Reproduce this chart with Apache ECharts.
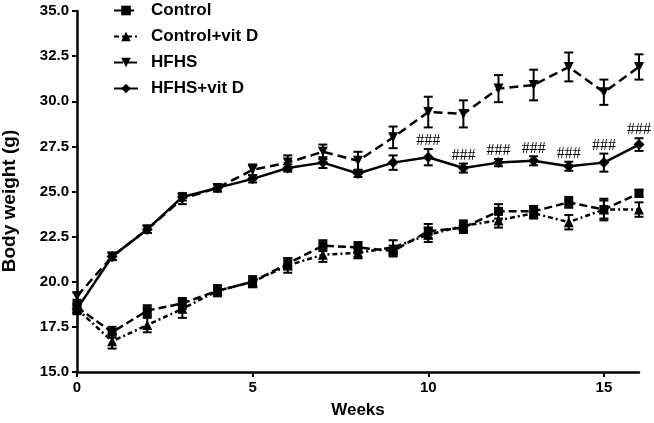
<!DOCTYPE html>
<html>
<head>
<meta charset="utf-8">
<script src="https://cdn.jsdelivr.net/npm/echarts@6/dist/echarts.min.js"></script>
<style>html,body{margin:0;padding:0;background:#fff}#c{width:654px;height:423px}</style>
</head>
<body>
<div id="c"></div>
<script>
const weeks = [0,1,2,3,4,5,6,7,8,9,10,11,12,13,14,15,16];
const yTicks = [15.0,17.5,20.0,22.5,25.0,27.5,30.0,32.5,35.0];
const xTickLabels = [0,5,10,15];
const seriesNames = ['Control','Control+vit D','HFHS','HFHS+vit D'];
const xTitle = 'Weeks';
const yTitle = 'Body weight (g)';

const control      = [18.6,17.2,18.4,18.8,19.5,20.0,21.0,22.0,21.9,21.7,22.8,23.0,23.9,23.9,24.4,24.0,24.9];
const controlErr   = [0.3,0.3,0.3,0.3,0.3,0.3,0.3,0.3,0.3,0.3,0.4,0.3,0.4,0.3,0.3,0.6,0.2];
const controlVitD  = [18.5,16.7,17.6,18.5,19.5,20.0,20.9,21.5,21.6,21.9,22.6,23.1,23.4,23.8,23.3,24.0,24.0];
const controlVitDErr=[0.3,0.4,0.4,0.5,0.3,0.3,0.4,0.4,0.3,0.4,0.4,0.3,0.4,0.3,0.4,0.5,0.4];
const hfhs         = [19.2,21.4,22.9,24.6,25.2,26.2,26.6,27.2,26.7,28.0,29.4,29.3,30.7,30.9,31.9,30.5,31.9];
const hfhsErr      = [0.2,0.2,0.2,0.3,0.2,0.3,0.4,0.4,0.5,0.6,0.85,0.75,0.75,0.85,0.8,0.7,0.7];
const hfhsVitD     = [18.5,21.4,22.9,24.7,25.2,25.7,26.3,26.6,26.0,26.6,26.9,26.3,26.6,26.7,26.4,26.6,27.6];
const hfhsVitDErr  = [0.2,0.2,0.2,0.2,0.2,0.2,0.2,0.3,0.2,0.4,0.45,0.25,0.2,0.25,0.25,0.5,0.35];
const sigLabel     = ['','','','','','','','','','','###','###','###','###','###','###','###'];

const chart = echarts.init(document.getElementById('c'));
const FONT = 'Liberation Sans, Arial, sans-serif';
const BOLD = {fontFamily:FONT, fontWeight:'bold', color:'#000'};

function pairs(vals){ return weeks.map((w,i)=>[w, vals[i]]); }
function errData(vals, errs){ return weeks.map((w,i)=>[w, vals[i]-errs[i], vals[i]+errs[i]]); }

function errSeries(vals, errs){
  return {
    type:'custom', silent:true, z:3,
    data: errData(vals, errs),
    encode:{x:0, y:[1,2]},
    renderItem:(params, api)=>{
      const x = api.value(0);
      const hi = api.coord([x, api.value(2)]);
      const lo = api.coord([x, api.value(1)]);
      const w = 4.5;
      const st = {stroke:'#000', lineWidth:2};
      return {type:'group', children:[
        {type:'line', shape:{x1:hi[0],y1:hi[1],x2:lo[0],y2:lo[1]}, style:st},
        {type:'line', shape:{x1:hi[0]-w,y1:hi[1],x2:hi[0]+w,y2:hi[1]}, style:st},
        {type:'line', shape:{x1:lo[0]-w,y1:lo[1],x2:lo[0]+w,y2:lo[1]}, style:st}
      ]};
    }
  };
}

function lineSeries(name, vals, symbol, size, dash, rotate){
  return {
    name, type:'line', data: pairs(vals), symbol, symbolSize:size, symbolRotate: rotate||0,
    z:4,
    lineStyle:{color:'#000', width:2.5, type:dash, cap:'butt'},
    itemStyle:{color:'#000', borderWidth:0},
    emphasis:{disabled:true}, animation:false
  };
}

const sigSeries = {
  type:'custom', silent:true, z:5,
  data: weeks.map((w,i)=>[w, hfhsVitD[i]+hfhsVitDErr[i], i]),
  renderItem:(params, api)=>{
    const idx = api.value(2);
    const txt = sigLabel[idx];
    if(!txt) return null;
    const p = api.coord([api.value(0), api.value(1)]);
    return {type:'text', x:p[0], y:p[1]-8, style:{text:txt, align:'center', verticalAlign:'middle',
      font:'16px "Liberation Serif", "Times New Roman", serif', fill:'#000'}};
  }
};

chart.setOption({
  animation:false,
  backgroundColor:'#fff',
  grid:{left:77, right:15, top:11, bottom:51, containLabel:false, outerBoundsMode:'none'},
  legend:{
    data: seriesNames,
    orient:'vertical', left:113, top:2, padding:0, itemWidth:24, itemHeight:12, itemGap:9,
    textStyle:Object.assign({fontSize:17, lineHeight:17, padding:[0,0,0,8]}, BOLD),
    selectedMode:false
  },
  graphic:[{
    type:'text', x:9.5, y:201, rotation:Math.PI/2, silent:true,
    style:{text:yTitle, align:'center', verticalAlign:'middle', font:'bold 19px ' + FONT, fill:'#000'}
  }],
  xAxis:{
    type:'value', min:0, max:16, interval:5,
    name:xTitle, nameLocation:'middle', nameGap:30,
    nameTextStyle:Object.assign({fontSize:17}, BOLD),
    axisLine:{lineStyle:{color:'#000', width:2.5}},
    axisTick:{show:true, length:5, lineStyle:{color:'#000', width:2}, customValues:xTickLabels},
    axisLabel:Object.assign({fontSize:15, margin:8, customValues:xTickLabels}, BOLD),
    splitLine:{show:false}
  },
  yAxis:{
    type:'value', min:15, max:35, interval:2.5,
    axisLine:{show:true, lineStyle:{color:'#000', width:2.5}},
    axisTick:{show:true, length:5, lineStyle:{color:'#000', width:2}, customValues:yTicks},
    axisLabel:Object.assign({fontSize:15, margin:8, customValues:yTicks, formatter:v=>Number(v).toFixed(1)}, BOLD),
    splitLine:{show:false}
  },
  series:[
    errSeries(control, controlErr),
    errSeries(controlVitD, controlVitDErr),
    errSeries(hfhs, hfhsErr),
    errSeries(hfhsVitD, hfhsVitDErr),
    lineSeries('Control', control, 'rect', 9, [8,4]),
    lineSeries('Control+vit D', controlVitD, 'triangle', 10, [5,3,2,3]),
    lineSeries('HFHS', hfhs, 'triangle', 10, [9,5], 180),
    lineSeries('HFHS+vit D', hfhsVitD, 'diamond', 11, 'solid'),
    sigSeries
  ]
});
</script>
</body>
</html>
